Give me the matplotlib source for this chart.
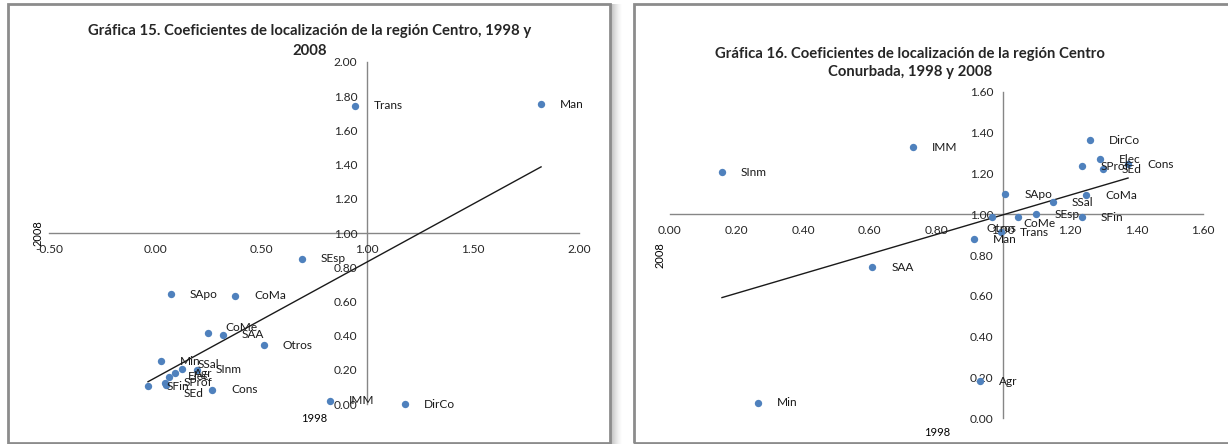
import numpy as np
import matplotlib
matplotlib.use("Agg")
import matplotlib.pyplot as plt
from matplotlib.patches import Rectangle

plt.rcParams['font.family'] = ['Lato', 'DejaVu Sans']

# Gráfica 15 - región Centro (x = 1998, y = 2008)
labels15 = ['Trans', 'Man', 'SEsp', 'SApo', 'CoMa', 'CoMe', 'SAA', 'Otros', 'Min', 'SSal',
            'Agr', 'SInm', 'Elec', 'SProf', 'SEd', 'SFin', 'Cons', 'IMM', 'DirCo']
x15 = [0.943, 1.821, 0.693, 0.075, 0.377, 0.250, 0.321, 0.514, 0.028, 0.127,
       0.094, 0.198, 0.066, 0.047, 0.052, -0.033, 0.269, 0.825, 1.179]
y15 = [1.743, 1.754, 0.848, 0.643, 0.632, 0.415, 0.404, 0.345, 0.251, 0.205,
       0.181, 0.199, 0.158, 0.123, 0.111, 0.105, 0.082, 0.018, 0.000]
xticks15 = [-0.5, 0.0, 0.5, 1.0, 1.5, 2.0]
yticks15 = [0.0, 0.2, 0.4, 0.6, 0.8, 1.0, 1.2, 1.4, 1.6, 1.8, 2.0]

# Gráfica 16 - región Centro Conurbada
labels16 = ['SInm', 'IMM', 'DirCo', 'Elec', 'SProf', 'SEd', 'Cons', 'CoMa', 'SSal', 'SApo',
            'SEsp', 'SFin', 'CoMe', 'Otros', 'Trans', 'Man', 'SAA', 'Agr', 'Min']
x16 = [0.156, 0.730, 1.261, 1.291, 1.237, 1.300, 1.375, 1.249, 1.150, 1.006,
       1.099, 1.237, 1.045, 0.967, 0.994, 0.913, 0.607, 0.931, 0.264]
y16 = [1.206, 1.328, 1.363, 1.270, 1.235, 1.221, 1.245, 1.093, 1.059, 1.098,
       1.000, 0.985, 0.985, 0.985, 0.912, 0.877, 0.740, 0.181, 0.074]
xticks16 = [0.0, 0.2, 0.4, 0.6, 0.8, 1.0, 1.2, 1.4, 1.6]
yticks16 = [0.0, 0.2, 0.4, 0.6, 0.8, 1.0, 1.2, 1.4, 1.6]

title15 = 'Gráfica 15. Coeficientes de localización de la región Centro, 1998 y\n2008'
title16 = 'Gráfica 16. Coeficientes de localización de la región Centro\nConurbada, 1998 y 2008'

# label nudges in pixels (dx, dy-down) for a few crowded points
nudge15 = {'SEd': (18, 8), 'SSal': (16, -4), 'CoMe': (17, -6)}
nudge16 = {'Otros': (-6, 11), 'CoMe': (5, 6)}

W, H = 1228, 444
fig = plt.figure(figsize=(W / 100, H / 100), dpi=100)
px = 72 / 100  # points per pixel

# panel frames
border = '#8c8c8c'
for i in range(12):
    fig.patches.append(Rectangle(((610 + i) / W, 0), 1 / W, 440 / H, transform=fig.transFigure,
                                 color='#7f7f7f', alpha=0.55 * (1 - i / 12) ** 1.5, lw=0))
fig.patches.append(Rectangle((8 / W, 1 / H), 602 / W, 439 / H, transform=fig.transFigure,
                             fill=False, edgecolor=border, lw=2))
fig.patches.append(Rectangle((634 / W, 1 / H), 600 / W, 439 / H, transform=fig.transFigure,
                             fill=False, edgecolor=border, lw=2))


def draw(ax, xs, ys, names, xticks, yticks, cross, nudge):
    ax.scatter(xs, ys, s=28, color='#4f81bd', zorder=3, clip_on=False, linewidths=0)
    k, b = np.polyfit(xs, ys, 1)
    xl = np.array([min(xs), max(xs)])
    ax.plot(xl, k * xl + b, color='#1a1a1a', lw=1.0, zorder=2)
    for name, xv, yv in zip(names, xs, ys):
        dx, dy = nudge.get(name, (19, 0))
        ax.annotate(name, (xv, yv), xytext=(dx * px, -dy * px), textcoords='offset points',
                    ha='left', va='center', fontsize=8.6, color='#1a1a1a', zorder=4)
    for s in ['top', 'right']:
        ax.spines[s].set_visible(False)
    ax.spines['left'].set_position(('data', cross))
    ax.spines['bottom'].set_position(('data', 1.0))
    for s in ['left', 'bottom']:
        ax.spines[s].set_color('#868686')
        ax.spines[s].set_linewidth(1.0)
        ax.spines[s].set_zorder(1)
    ax.set_xticks(xticks)
    ax.set_yticks(yticks)
    ax.set_xticklabels(['%.2f' % t for t in xticks])
    ax.set_yticklabels(['%.2f' % t for t in yticks])
    ax.tick_params(axis='both', length=0, labelsize=8.6, labelcolor='#262626')
    ax.tick_params(axis='x', pad=8)
    ax.tick_params(axis='y', pad=7)
    ax.patch.set_alpha(0)


ax1 = fig.add_axes([49 / W, (H - 404) / H, 530 / W, 342 / H])
ax1.set_xlim(-0.5, 2.0)
ax1.set_ylim(0, 2.0)
draw(ax1, x15, y15, labels15, xticks15, yticks15, 1.0, nudge15)

ax2 = fig.add_axes([670 / W, (H - 418) / H, 533 / W, 326 / H])
ax2.set_xlim(0, 1.6)
ax2.set_ylim(0, 1.6)
draw(ax2, x16, y16, labels16, xticks16, yticks16, 1.0, nudge16)

fig.text(310 / W, 1 - 41 / H, title15, ha='center', va='center', fontsize=10.7,
         fontweight='bold', color='#262626', linespacing=1.55)
fig.text(910 / W, 1 - 63 / H, title16, ha='center', va='center', fontsize=10.7,
         fontweight='bold', color='#262626', linespacing=1.45)

fig.text(38 / W, 1 - 233 / H, '2008', rotation=90, ha='center', va='center', fontsize=8)
fig.text(314 / W, 1 - 418 / H, '1998', ha='center', va='center', fontsize=8)
fig.text(660 / W, 1 - 255 / H, '2008', rotation=90, ha='center', va='center', fontsize=8)
fig.text(937 / W, 1 - 432 / H, '1998', ha='center', va='center', fontsize=8)

fig.savefig('out.png', dpi=100)
